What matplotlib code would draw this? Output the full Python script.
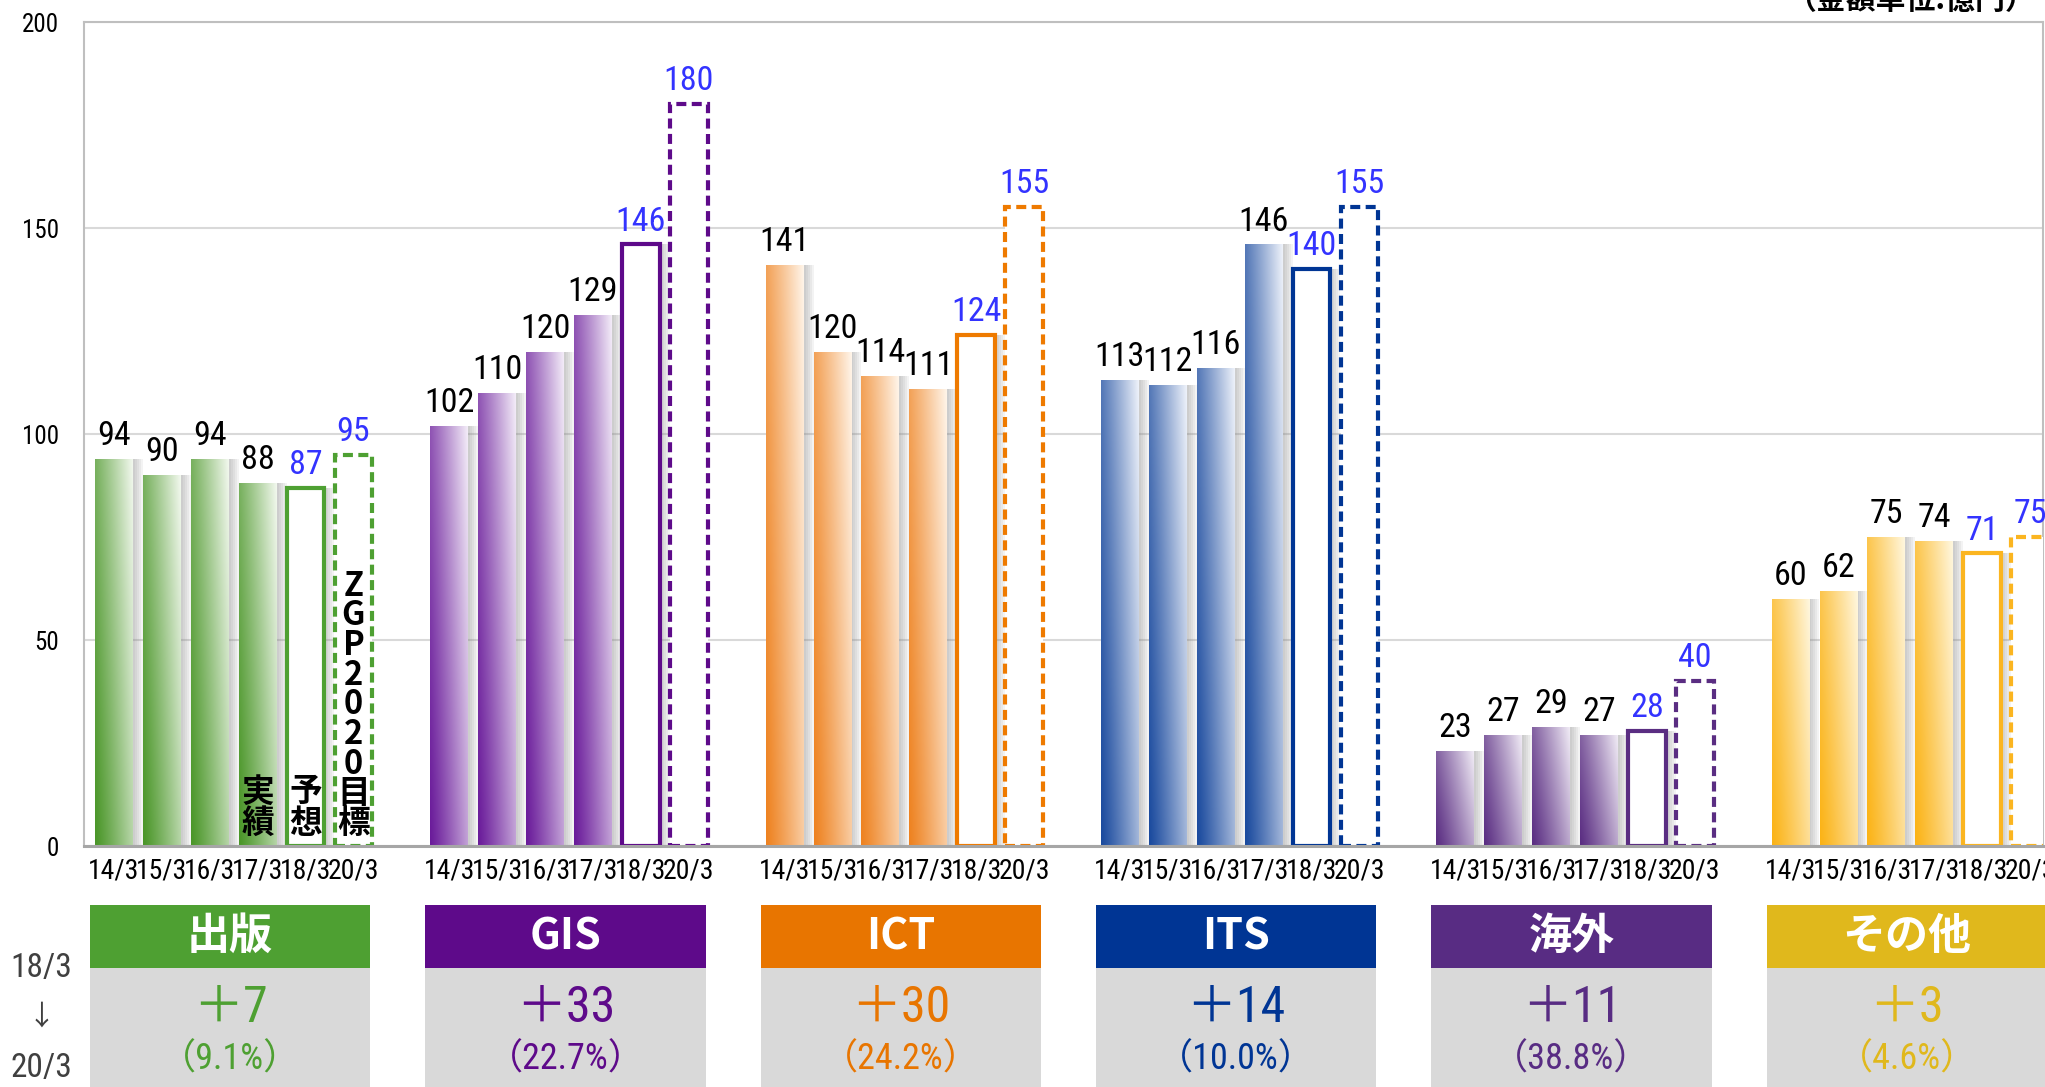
import numpy as np
import matplotlib
matplotlib.use('Agg')
import matplotlib.pyplot as plt
from matplotlib import transforms, font_manager
from matplotlib.patches import Rectangle
from matplotlib.colors import to_rgb

plt.rcParams['font.family'] = ['Noto Sans CJK JP', 'DejaVu Sans']

# ---------------- data ----------------
segments = ['出版', 'GIS', 'ICT', 'ITS', '海外', 'その他']
periods = ['14/3', '15/3', '16/3', '17/3', '18/3', '20/3']
publishing = [94, 90, 94, 88, 87, 95]
gis = [102, 110, 120, 129, 146, 180]
ict = [141, 120, 114, 111, 124, 155]
its = [113, 112, 116, 146, 140, 155]
overseas = [23, 27, 29, 27, 28, 40]
others = [60, 62, 75, 74, 71, 75]
change_abs = ['＋7', '＋33', '＋30', '＋14', '＋11', '＋3']
change_pct = ['（9.1%）', '（22.7%）', '（24.2%）', '（10.0%）', '（38.8%）', '（4.6%）']

series = [publishing, gis, ict, its, overseas, others]

# ---------------- fonts ----------------
avail = {f.name for f in font_manager.fontManager.ttflist}
condensed = None
for cand in ['Liberation Sans Narrow', 'Roboto Condensed', 'Open Sans Condensed',
             'DejaVu Sans Condensed', 'Noto Sans Condensed']:
    if cand in avail:
        condensed = cand
        break
if condensed is not None:
    num_family = [condensed, 'Noto Sans CJK JP', 'DejaVu Sans']
    fs_xtick, fs_ytick, fs_val, fs_left, fs_pct = 20, 18, 24.5, 24, 26
else:
    num_family = ['Noto Sans CJK JP', 'DejaVu Sans']
    fs_xtick, fs_ytick, fs_val, fs_left, fs_pct = 16.5, 15, 20, 21, 24

# ---------------- styles ----------------
dark_cols = ['#4A9628', '#6A1B9A', '#EE8220', '#1A4A9E', '#5A2D82', '#FBB316']
light_cols = ['#F2F8EE', '#F3ECF8', '#FFF5EA', '#EEF2FA', '#F0EBF5', '#FFF7DF']
edge_cols = ['#4EA032', '#5E0A8A', '#EE7A00', '#003594', '#5A2D82', '#FBB520']
head_cols = ['#4EA032', '#5E0A8A', '#E87500', '#003594', '#582C83', '#E0B81C']
blue_lbl = '#3333FF'

W, H = 2045, 1087
fig = plt.figure(figsize=(W / 100, H / 100), dpi=100)
ax = fig.add_axes([84 / W, 1 - 846 / H, (2043 - 84) / W, (846 - 22) / H])

step = 7
bw = 0.79
px = 1 / 47.9


def grad_img(dark, light, n=60):
    d = np.array(to_rgb(dark))
    l = np.array(to_rgb(light))
    u = np.linspace(0, 1, n)[None, :]
    v = np.linspace(0, 1, n)[:, None]
    t = np.clip(0.68 * u + 0.32 * v, 0, 1) ** 1.15
    return d[None, None, :] * (1 - t[..., None]) + l[None, None, :] * t[..., None]


tick_pos = []
tick_lbl = []
for g, vals in enumerate(series):
    x = np.arange(6) + g * step
    tick_pos += list(x)
    tick_lbl += periods
    # soft shadows
    for off in [2, 4, 6, 8, 10]:
        ax.bar(x[:5] + off * px, vals[:5], width=bw, bottom=0, color='#7F7F7F',
               alpha=0.09, zorder=1, linewidth=0)
    bars = ax.bar(x[:4], vals[:4], width=bw, color=dark_cols[g], zorder=2, linewidth=0)
    img = grad_img(dark_cols[g], light_cols[g])
    for b in bars:
        im = ax.imshow(img, extent=[b.get_x(), b.get_x() + b.get_width(), 0, b.get_height()],
                       aspect='auto', origin='lower', interpolation='bilinear', zorder=2.5)
        im.set_clip_path(b)
    ax.bar(x[4], vals[4], width=bw, facecolor='white', edgecolor=edge_cols[g],
           linewidth=3, zorder=3)
    ax.bar(x[5], vals[5], width=bw, facecolor='white', edgecolor=edge_cols[g],
           linewidth=3, linestyle=(0, (2.4, 1.3)), zorder=3)
    for i, v in enumerate(vals):
        ax.annotate(str(v), (x[i], v), xytext=(0, 5), textcoords='offset points',
                    ha='center', va='bottom', fontsize=fs_val, family=num_family,
                    color='black' if i < 4 else blue_lbl, zorder=6, annotation_clip=False)

# in-bar labels (first group)
ax.text(3, 1.5, '実\n績', ha='center', va='bottom', fontsize=23.5, fontweight='bold',
        linespacing=0.94, zorder=7)
ax.text(4, 1.5, '予\n想', ha='center', va='bottom', fontsize=23.5, fontweight='bold',
        linespacing=0.94, zorder=7)
ax.text(5, 1.5, '\n'.join(list('ZGP2020目標')), ha='center', va='bottom', fontsize=23.5,
        fontweight='bold', linespacing=0.87, zorder=7)

ax.set_xlim(-0.625, 40.27)
ax.set_ylim(0, 200)
ax.set_yticks([0, 50, 100, 150, 200])
ax.set_xticks(tick_pos)
ax.set_xticklabels(tick_lbl)
ax.tick_params(axis='x', length=0, labelsize=fs_xtick, pad=8)
ax.tick_params(axis='y', length=0, labelsize=fs_ytick, pad=18)
for lbl in ax.get_xticklabels() + ax.get_yticklabels():
    lbl.set_family(num_family)
ax.set_axisbelow(True)
ax.yaxis.grid(True, color='#D9D9D9', linewidth=1.5, zorder=0)
for s in ['left', 'top', 'right']:
    ax.spines[s].set_color('#BFBFBF')
    ax.spines[s].set_linewidth(1.5)
ax.spines['bottom'].set_color('#A6A6A6')
ax.spines['bottom'].set_linewidth(2.2)
ax.spines['bottom'].set_zorder(8)

# ---------------- bottom panel ----------------
trans = transforms.blended_transform_factory(ax.transData, fig.transFigure)
y_head_top = 1 - 905 / H
y_head_bot = 1 - 968 / H
box_w = 5.85
for g in range(6):
    x0 = g * step - 0.5
    fig.add_artist(Rectangle((x0, y_head_bot), box_w, y_head_top - y_head_bot,
                             transform=trans, facecolor=head_cols[g], edgecolor='none'))
    fig.add_artist(Rectangle((x0, -0.02), box_w, y_head_bot + 0.02,
                             transform=trans, facecolor='#D9D9D9', edgecolor='none'))
    cx = x0 + box_w / 2
    fig.text(cx, 1 - 936 / H, segments[g], transform=trans, ha='center', va='center',
             fontsize=31, fontweight='bold', color='white')
    fig.text(cx, 1 - 1008 / H, change_abs[g], transform=trans, ha='center', va='center',
             fontsize=36, color=head_cols[g], family=num_family)
    fig.text(cx, 1 - 1060 / H, change_pct[g], transform=trans, ha='center', va='center',
             fontsize=fs_pct, color=head_cols[g], family=num_family)

fig.text(41 / W, 1 - 968 / H, '18/3', ha='center', va='center', fontsize=fs_left,
         color='#404040', family=num_family)
fig.text(41 / W, 1 - 1017 / H, '↓', ha='center', va='center', fontsize=20, color='#404040')
fig.text(41 / W, 1 - 1068 / H, '20/3', ha='center', va='center', fontsize=fs_left,
         color='#404040', family=num_family)

fig.text(2035 / W, 1 - 9 / H, '（金額単位:億円）', ha='right', va='baseline',
         fontsize=21.5, fontweight='bold', color='black')

fig.savefig('out.png', dpi=100)
